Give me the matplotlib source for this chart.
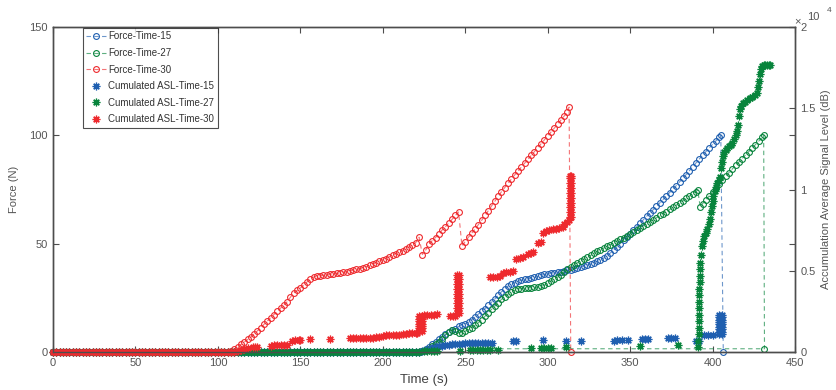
import numpy as np
import matplotlib
matplotlib.use("Agg")
import matplotlib.pyplot as plt

plt.rcParams['font.family'] = ['Liberation Sans', 'DejaVu Sans']

# ---------------- data ----------------
# Force-Time-30
f30_t = np.concatenate([np.arange(0, 108, 2), np.arange(108, 224, 2),
                        np.arange(224, 247, 2), np.arange(248, 314, 2), [313, 314]])
f30_v = ([0.0] * 54 +
         [0.4, 1.2,
          2.5, 3.5, 4.6, 5.8, 6.9, 8.4, 9.8, 11.3, 12.8, 14.3,
          15.8, 17.3, 18.8, 20.2, 21.7, 23.2, 25.3, 27.2, 28.4, 29.5,
          30.9, 32.3, 33.5, 34.6, 35.0, 35.2, 35.4, 35.5, 35.8, 36.0,
          36.3, 36.5, 36.8, 37.1, 37.4, 37.8, 38.1, 38.5, 38.8, 39.4,
          40.0, 40.6, 41.3, 42.0, 42.6, 43.1, 44.0, 44.8, 45.4, 46.0,
          46.8, 47.6, 48.5, 49.4, 50.5, 53.0] +
         [45.0, 47.0, 49.8, 51.4, 52.8, 54.6, 56.3, 57.8, 59.5, 61.2, 63.0, 64.6] +
         [49.0, 51.0, 53.0, 54.9, 56.8, 58.8, 60.8, 63.0, 65.2, 67.4,
          69.6, 71.8, 74.0, 75.9, 77.9, 79.8, 81.7, 83.5, 85.3, 87.1,
          88.9, 90.7, 92.5, 94.3, 96.1, 97.9, 99.7, 101.5, 103.3, 105.1,
          107.0, 108.9, 110.8] +
         [113.0, 0.0])

# Force-Time-15
f15_t = np.concatenate([np.arange(0, 224, 2), np.arange(224, 406, 2), [405, 406.5]])
f15_v = ([0.0] * 112 +
         [0.5, 1.5, 2.5, 3.5, 4.6, 5.8, 7.0, 8.2, 9.2, 10.0,
          10.8, 11.8, 12.5, 13.1, 13.8, 15.0, 16.2, 17.5, 18.8, 20.0,
          21.6, 23.0, 24.5, 26.3, 27.8, 29.2, 30.5, 31.3, 32.0, 32.6,
          33.1, 33.5, 33.8, 34.1, 34.4, 34.9, 35.4, 35.8, 36.1, 36.4,
          36.6, 36.8, 37.1, 37.4, 37.7, 38.0, 38.4, 38.8, 39.2, 39.6,
          40.1, 40.6, 41.2, 41.8, 42.5, 43.4, 44.5, 45.7, 47.0, 48.5,
          50.0, 51.5, 53.0, 54.6, 56.2, 57.8, 59.5, 61.0, 62.6, 64.1,
          65.7, 67.2, 68.8, 70.4, 72.0, 73.6, 75.2, 76.8, 78.5, 80.2,
          81.9, 83.7, 85.5, 87.3, 89.1, 90.8, 92.5, 94.2, 95.8, 97.4,
          99.0] +
         [100.0, 0.0])

# Force-Time-27
f27_t = np.concatenate([np.arange(0, 224, 2), np.arange(224, 392, 2), [391, 392.5],
                        np.arange(394, 432, 2), [431, 431.5, 266]])
f27_v = ([0.0] * 112 +
         [0.3, 0.8, 1.6, 2.6, 3.6, 4.8, 6.2, 7.8, 9.4, 10.2,
          9.6, 8.9, 9.0, 9.6, 10.4, 11.3, 12.4, 13.6, 15.0, 16.5,
          18.1, 19.7, 21.2, 22.8, 24.3, 25.6, 26.8, 27.8, 28.5, 29.0,
          29.3, 29.5, 29.6, 29.7, 29.8, 30.0, 30.3, 30.8, 31.8, 32.8,
          33.8, 34.6, 35.6, 37.0, 38.3, 39.4, 40.3, 41.2, 42.0, 42.9,
          43.7, 44.6, 45.5, 46.4, 47.2, 48.0, 48.8, 49.6, 50.4, 51.2,
          52.0, 52.8, 53.6, 54.6, 55.5, 56.4, 57.4, 58.3, 59.2, 60.2,
          61.1, 62.0, 63.0, 63.9, 64.8, 65.8, 66.8, 67.8, 68.8, 69.9,
          71.0, 72.0, 73.0, 74.0] +
         [74.8, 67.0] +
         [68.5, 70.3, 72.1, 74.0, 75.8, 77.6, 79.4, 81.1, 82.8, 84.5,
          86.1, 87.7, 89.3, 90.9, 92.5, 94.1, 95.7, 97.3, 99.0] +
         [100.0, 1.5, 1.5])

# Cumulated ASL-Time-15
a15_t = np.concatenate([np.arange(0, 224, 2),
                        [224, 226, 228, 230, 232, 234, 236, 238, 240, 242, 244, 246,
                         248, 250, 252, 254, 256, 258, 260, 262, 264, 266, 279, 280.5,
                         297, 311, 320, 340, 342, 345, 349, 357, 359, 361, 373, 375,
                         377, 390, 392, 395, 397, 400],
                        [404] * 9, [405.5] * 9])
a15_v = ([0.0] * 112 +
         [60, 120, 180, 250, 300, 340, 380, 420, 450, 470, 490, 510,
          520, 530, 540, 545, 550, 555, 560, 565, 570, 575, 680, 690,
          740, 700, 700, 700, 710, 720, 720, 800, 810, 820, 850, 860,
          870, 680, 700, 1050, 1070, 1050] +
         [1100, 1250, 1400, 1550, 1700, 1850, 2000, 2150, 2280] +
         [1100, 1250, 1400, 1550, 1700, 1850, 2000, 2150, 2280])

# Cumulated ASL-Time-27
a27_t = np.concatenate([np.arange(0, 224, 2),
                        [225, 227, 229, 231, 233, 247, 253, 255, 257, 259, 261, 263,
                         265, 270, 290, 296, 298, 300, 302, 311, 356, 379],
                        [391.4, 391.4, 391.5, 391.5, 391.6, 391.6, 391.7, 391.8, 391.9,
                         392.0, 392.1, 392.2, 392.3, 392.5, 392.8, 393.3, 394.0, 395.0,
                         396.0, 396.8, 397.6, 398.2, 398.9, 399.5, 400.0, 400.5, 401.2,
                         402.0, 402.9, 403.8, 404.7, 405.2, 405.7, 406.3, 407.0, 408.0,
                         409.0, 410.0, 411.0, 412.0, 413.0, 414.0, 415.0, 415.7, 416.2,
                         416.7, 417.5, 418.5, 419.5, 421.0, 422.5, 424.0, 425.5, 427.0,
                         427.8, 428.3, 428.7, 429.3, 430.0, 431.0, 432.0, 433.0, 434.0,
                         435.0]])
a27_v = ([0.0] * 112 +
         [60, 60, 60, 70, 80, 60, 120, 130, 130, 140, 140, 150,
          150, 150, 250, 250, 260, 260, 270, 300, 370, 430] +
         [300, 700, 1100, 1500, 1900, 2300, 2700, 3100, 3500,
          3900, 4300, 4700, 5100, 5500, 6000, 6500, 6850, 7150,
          7350, 7550, 7900, 8200, 8600, 9000, 9300, 9600, 9900,
          10150, 10400, 10600, 10800, 11300, 11700, 12050, 12300, 12450,
          12550, 12650, 12750, 12860, 13100, 13350, 13600, 14000, 14500,
          14950, 15150, 15300, 15400, 15500, 15620, 15720, 15820, 15940,
          16300, 16700, 17100, 17400, 17600, 17660, 17660, 17670, 17680,
          17690])

# Cumulated ASL-Time-30
a30_t = np.concatenate([np.arange(0, 108, 2),
                        [108, 110, 112, 114, 116, 118, 121, 122.5, 124, 132, 134, 136,
                         138, 140, 142, 145, 147, 149, 150, 156, 168, 180, 182, 184,
                         186, 188, 190, 192, 194, 196, 198, 200, 202, 204, 206, 208,
                         210, 212, 214, 216, 218, 220, 221],
                        [222] * 7, [223.5] * 7,
                        [225, 227, 229, 231, 233, 241, 242.5, 244],
                        [245] * 9, [246] * 9,
                        [265, 267, 269, 271, 273, 275, 277, 279, 281, 283, 285, 288,
                         290, 291, 294, 296, 297, 299, 301, 303, 305, 307, 309, 310,
                         312, 313],
                        [313.3] * 10, [314.3] * 10])
a30_v = ([0.0] * 54 +
         [10, 20, 60, 120, 180, 230, 280, 300, 320, 400, 420, 430,
          440, 450, 460, 700, 730, 750, 760, 800, 810, 850, 860, 860,
          870, 870, 880, 880, 890, 900, 910, 1000, 1020, 1040, 1050, 1060,
          1070, 1080, 1090, 1150, 1170, 1180, 1190] +
         [1300, 1450, 1600, 1750, 1900, 2050, 2200] +
         [1300, 1450, 1600, 1750, 1900, 2050, 2200] +
         [2280, 2290, 2300, 2300, 2310, 2200, 2210, 2220] +
         [2400, 2700, 3000, 3300, 3600, 3900, 4200, 4500, 4740] +
         [2400, 2700, 3000, 3300, 3600, 3900, 4200, 4500, 4740] +
         [4600, 4620, 4630, 4650, 4850, 4900, 4950, 5000, 5700, 5780, 5850, 6050,
          6100, 6150, 6700, 6800, 7300, 7450, 7500, 7550, 7600, 7650, 7700, 7900,
          8000, 8100] +
         [8300, 8600, 8900, 9200, 9500, 9800, 10100, 10400, 10700, 10830] +
         [8300, 8600, 8900, 9200, 9500, 9800, 10100, 10400, 10700, 10830])

x_ticks = [0, 50, 100, 150, 200, 250, 300, 350, 400, 450]
force_ticks = [0, 50, 100, 150]
asl_ticks = [0, 5000, 10000, 15000, 20000]
asl_labels = ['0', '0.5', '1', '1.5', '2']

blue = '#1f5fb0'
green = '#08843c'
red = '#ee2a2e'
axis_col = '#4d4d4d'
text_col = '#555555'
asterisk = (8, 2, 0)

# ---------------- figure ----------------
fig = plt.figure(figsize=(8.36, 3.9), dpi=100)
ax = fig.add_axes([53 / 836, 38 / 390, 742 / 836, 325 / 390])
ax2 = ax.twinx()

force_kw = dict(linestyle=(0, (4, 3)), linewidth=0.8, marker='o', markersize=4.2,
                markerfacecolor='none', markeredgewidth=0.8, clip_on=False)
h1, = ax.plot(f15_t, f15_v, color=blue, label='Force-Time-15', **force_kw)
h2, = ax.plot(f27_t, f27_v, color=green, label='Force-Time-27', **force_kw)
h3, = ax.plot(f30_t, f30_v, color=red, label='Force-Time-30', **force_kw)
for h in (h1, h2, h3):
    h.set_markeredgecolor(h.get_color())
    h.set_color(matplotlib.colors.to_rgba(h.get_color(), 0.65))

asl_kw = dict(linestyle='none', marker=asterisk, markersize=5.5, markeredgewidth=0.9,
              clip_on=False)
h4, = ax2.plot(a15_t, a15_v, color=blue, label='Cumulated ASL-Time-15', **asl_kw)
h5, = ax2.plot(a27_t, a27_v, color=green, label='Cumulated ASL-Time-27', **asl_kw)
h6, = ax2.plot(a30_t, a30_v, color=red, label='Cumulated ASL-Time-30', **asl_kw)

ax.set_xlim(0, 450)
ax.set_ylim(0, 150)
ax2.set_ylim(0, 20000)
ax.set_xticks(x_ticks)
ax.set_yticks(force_ticks)
ax2.set_yticks(asl_ticks)
ax2.set_yticklabels(asl_labels)

for a in (ax, ax2):
    for s in a.spines.values():
        s.set_color(axis_col)
        s.set_linewidth(1.0)
ax.tick_params(direction='in', length=4, width=0.8, colors=axis_col, labelcolor=text_col,
               labelsize=8, top=True, right=True, pad=4)
ax2.tick_params(direction='in', length=4, width=0.8, colors=axis_col, labelcolor=text_col,
                labelsize=8, pad=4)

ax.set_xlabel('Time (s)', fontsize=9.5, color='#404040', labelpad=5)
ax.set_ylabel('Force (N)', fontsize=8, color=text_col, labelpad=7)
ax2.set_ylabel('Accumulation Average Signal Level (dB)', fontsize=8, color=text_col,
               labelpad=4)

fig.text(797 / 836, 1 - 21 / 390, '×', fontsize=8, color=text_col, ha='center', va='center')
fig.text(813 / 836, 1 - 17 / 390, '10', fontsize=8, color=text_col, ha='center', va='center')
fig.text(829 / 836, 1 - 10 / 390, '4', fontsize=6, color=text_col, ha='center', va='center')

leg = ax2.legend(handles=[h1, h2, h3, h4, h5, h6], loc='upper left',
                 bbox_to_anchor=(0.04, 0.997), fontsize=7, frameon=True, fancybox=False,
                 edgecolor='#222222', handlelength=2.0, handletextpad=0.3,
                 labelspacing=0.68, borderpad=0.35, borderaxespad=0.0)
leg.get_frame().set_linewidth(0.8)
for t in leg.get_texts():
    t.set_color('#333333')

fig.savefig('out.png', dpi=100)
